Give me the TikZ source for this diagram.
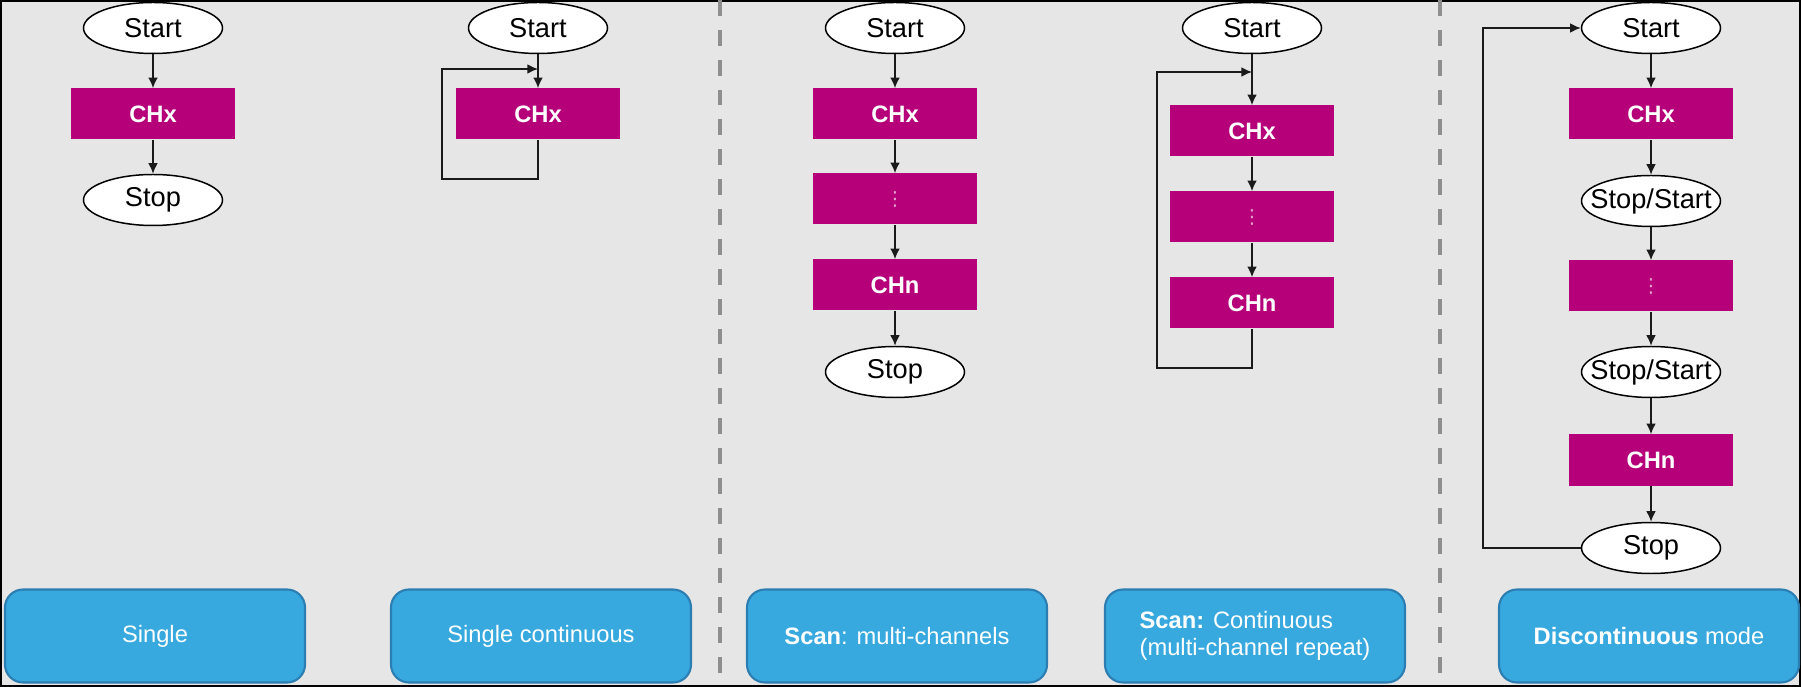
\documentclass[tikz,border=0pt]{standalone}
\usepackage{fontspec}
\setmainfont{Liberation Sans}
\newfontfamily\symfont{DejaVu Sans}
\usetikzlibrary{arrows.meta,shapes.geometric}
\definecolor{Back}{HTML}{E6E6E6}
\definecolor{Magenta}{HTML}{B5007A}
\definecolor{Sky}{HTML}{37A9DF}
\definecolor{SkyLine}{HTML}{2C7DB2}
\definecolor{DashGray}{HTML}{8E8E8E}
\definecolor{Wire}{HTML}{1A1A1A}
\newcommand{\termtxt}[1]{\makebox[0pt]{#1}}
\tikzset{
  term/.style={ellipse,draw=black,line width=0.85pt,fill=white,inner sep=0pt,minimum width=2.78cm,minimum height=1.02cm,font=\fontsize{15.5}{18}\selectfont},
  chan/.style={rectangle,fill=Magenta,text=white,inner sep=0pt,minimum width=3.28cm,minimum height=1.02cm,font=\bfseries\fontsize{13.5}{16}\selectfont},
  chandots/.style={chan,text=Magenta!35!white,font=\symfont\fontsize{11}{13}\selectfont},
  mode/.style={rectangle,rounded corners=0.36cm,fill=Sky,draw=SkyLine,line width=1.2pt,text=white,minimum width=6cm,minimum height=1.86cm,align=center,font=\fontsize{13.5}{15.5}\selectfont},
  arrow/.style={-{Latex[length=6pt,width=5.5pt]},line width=0.85pt,draw=Wire},
  loopline/.style={line width=1.1pt,draw=black!70},
  sep/.style={draw=DashGray,line width=2.3pt,dash pattern=on 9pt off 8pt}
}
\begin{document}
\begin{tikzpicture}[x=0.2mm,y=-0.2mm]
  \useasboundingbox (0,0) rectangle (1801,687);
  \fill[black] (0,0) rectangle (1801,687);
  \fill[Back] (2,2) rectangle (1799,685);

  % separators
  \draw[sep] (720,0) -- (720,687);
  \draw[sep] (1440,0) -- (1440,687);

  % single
  \node[term] (s1) at (153,28) {\termtxt{Start}};
  \node[chan] (c1) at (153,114) {CHx};
  \node[term] (e1) at (153,200) {\termtxt{Stop}};
  \draw[arrow] (s1) -- (c1);
  \draw[arrow] (c1) -- (e1);

  % single continuous
  \node[term] (s2) at (538,28) {\termtxt{Start}};
  \node[chan] (c2) at (538,114) {CHx};
  \coordinate (j2) at (538,69);
  \coordinate (r2) at (442,179);
  \draw[arrow] (s2) -- (c2);
  \draw[loopline,arrow] (c2.south) |- (r2) |- (j2);

  % scan
  \node[term] (s3) at (895,28) {\termtxt{Start}};
  \node[chan] (c3) at (895,114) {CHx};
  \node[chandots] (d3) at (895,199) {⋮};
  \node[chan] (n3) at (895,285) {CHn};
  \node[term] (e3) at (895,372) {\termtxt{Stop}};
  \draw[arrow] (s3) -- (c3);
  \draw[arrow] (c3) -- (d3);
  \draw[arrow] (d3) -- (n3);
  \draw[arrow] (n3) -- (e3);

  % scan continuous
  \node[term] (s4) at (1252,28) {\termtxt{Start}};
  \node[chan] (c4) at (1252,131) {CHx};
  \node[chandots] (d4) at (1252,217) {⋮};
  \node[chan] (n4) at (1252,303) {CHn};
  \coordinate (j4) at (1252,72);
  \coordinate (r4) at (1157,368);
  \draw[arrow] (s4) -- (c4);
  \draw[arrow] (c4) -- (d4);
  \draw[arrow] (d4) -- (n4);
  \draw[loopline,arrow] (n4.south) |- (r4) |- (j4);

  % discontinuous
  \node[term] (s5) at (1651,28) {\termtxt{Start}};
  \node[chan] (c5) at (1651,114) {CHx};
  \node[term] (m5) at (1651,201) {\termtxt{Stop/Start}};
  \node[chandots] (d5) at (1651,286) {⋮};
  \node[term] (p5) at (1651,372) {\termtxt{Stop/Start}};
  \node[chan] (n5) at (1651,460) {CHn};
  \node[term] (e5) at (1651,548) {\termtxt{Stop}};
  \coordinate (l5) at (1483,28);
  \draw[arrow] (s5) -- (c5);
  \draw[arrow] (c5) -- (m5);
  \draw[arrow] (m5) -- (d5);
  \draw[arrow] (d5) -- (p5);
  \draw[arrow] (p5) -- (n5);
  \draw[arrow] (n5) -- (e5);
  \draw[loopline,arrow] (e5.west) -| (l5) -- (s5.west);

  % mode labels
  \node[mode] (b1) at (155,636) {Single};
  \node[mode] (b2) at (541,636) {Single continuous};
  \node[mode] (b3) at (897,636) {\textbf{Scan}: multi-channels};
  \node[mode,align=left] (b4) at (1255,636) {\textbf{Scan:} Continuous\\(multi-channel repeat)};
  \node[mode] (b5) at (1649,636) {\textbf{Discontinuous} mode};
\end{tikzpicture}
\end{document}
